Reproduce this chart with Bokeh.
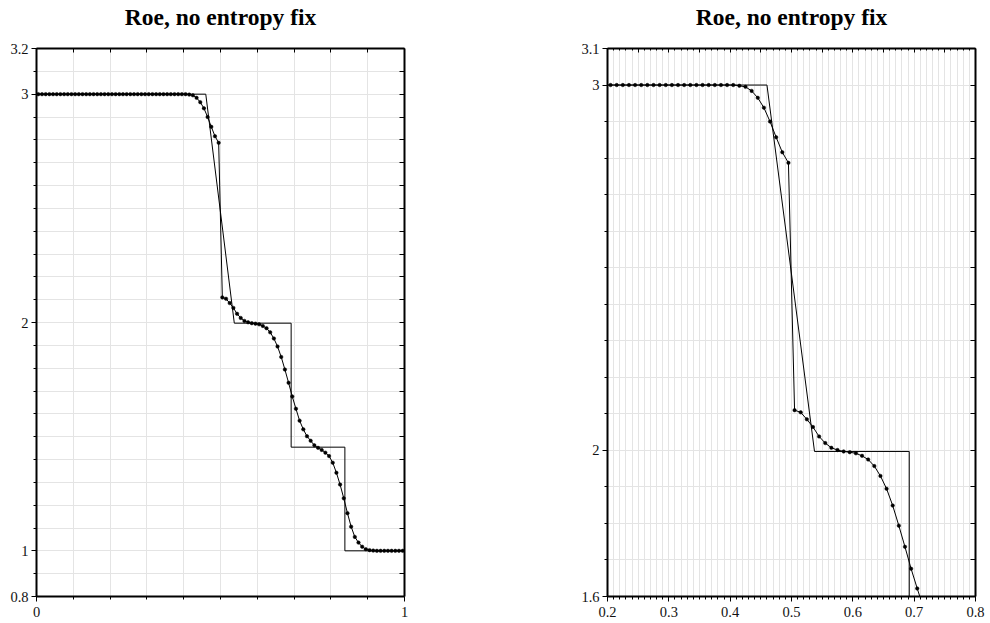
from bokeh.plotting import figure
from bokeh.layouts import row
from bokeh.models import (Range1d, LinearAxis, FixedTicker, CustomJSTickFormatter, Title)
from bokeh.embed import file_html
from bokeh.resources import INLINE

# ---------------- data ----------------
title_text = "Roe, no entropy fix"

x_cells = [
    0.005, 0.015, 0.025, 0.035, 0.045, 0.055, 0.065, 0.075, 0.085, 0.095,
    0.105, 0.115, 0.125, 0.135, 0.145, 0.155, 0.165, 0.175, 0.185, 0.195,
    0.205, 0.215, 0.225, 0.235, 0.245, 0.255, 0.265, 0.275, 0.285, 0.295,
    0.305, 0.315, 0.325, 0.335, 0.345, 0.355, 0.365, 0.375, 0.385, 0.395,
    0.405, 0.415, 0.425, 0.435, 0.445, 0.455, 0.465, 0.475, 0.485, 0.495,
    0.505, 0.515, 0.525, 0.535, 0.545, 0.555, 0.565, 0.575, 0.585, 0.595,
    0.605, 0.615, 0.625, 0.635, 0.645, 0.655, 0.665, 0.675, 0.685, 0.695,
    0.705, 0.715, 0.725, 0.735, 0.745, 0.755, 0.765, 0.775, 0.785, 0.795,
    0.805, 0.815, 0.825, 0.835, 0.845, 0.855, 0.865, 0.875, 0.885, 0.895,
    0.905, 0.915, 0.925, 0.935, 0.945, 0.955, 0.965, 0.975, 0.985, 0.995,
]
roe_values = [
    3.0, 3.0, 3.0, 3.0, 3.0, 3.0, 3.0, 3.0, 3.0, 3.0,
    3.0, 3.0, 3.0, 3.0, 3.0, 3.0, 3.0, 3.0, 3.0, 3.0,
    3.0, 3.0, 3.0, 3.0, 3.0, 3.0, 3.0, 3.0, 3.0, 3.0,
    3.0, 3.0, 3.0, 3.0, 3.0, 3.0, 3.0, 3.0, 3.0, 3.0,
    3.000, 2.998, 2.995, 2.984, 2.965, 2.938, 2.900, 2.857, 2.816, 2.787,
    2.110, 2.104, 2.085, 2.064, 2.038, 2.020, 2.007, 2.001, 1.997, 1.995,
    1.992, 1.985, 1.975, 1.957, 1.930, 1.895, 1.849, 1.794, 1.736, 1.676,
    1.622, 1.570, 1.532, 1.502, 1.482, 1.462, 1.451, 1.442, 1.430, 1.415,
    1.386, 1.342, 1.290, 1.230, 1.165, 1.106, 1.061, 1.036, 1.018, 1.007,
    1.003, 1.001, 1.0, 1.0, 1.0, 1.0, 1.0, 1.0, 1.0, 1.0,
]
exact_x = [0.0, 0.46, 0.5375, 0.692, 0.692, 0.838, 0.838, 1.0]
exact_y = [3.0, 3.0, 1.997, 1.997, 1.454, 1.454, 1.0, 1.0]

left_xlabels = [0.0, 1.0]
left_ylabels = [0.8, 1.0, 2.0, 3.0, 3.2]
right_xlabels = [0.2, 0.3, 0.4, 0.5, 0.6, 0.7, 0.8]
right_ylabels = [1.6, 2.0, 3.0, 3.1]

# ---------------- helpers ----------------
FONT = "Liberation Serif"
fmt = CustomJSTickFormatter(code="return String(parseFloat(tick.toFixed(2)));")
blank = CustomJSTickFormatter(code="return '';")


def steps(a, b, d):
    n = int(round((b - a) / d))
    return [round(a + i * d, 4) for i in range(n + 1)]


def style_axis(ax, major, minor, out_major, out_minor, in_major=0, in_minor=0, labels=True):
    ax.ticker = FixedTicker(ticks=major, minor_ticks=minor)
    ax.axis_line_width = 2
    ax.axis_line_color = "black"
    ax.major_tick_line_color = "black"
    ax.minor_tick_line_color = "black"
    ax.major_tick_out = out_major
    ax.major_tick_in = in_major
    ax.minor_tick_out = out_minor
    ax.minor_tick_in = in_minor
    if labels:
        ax.formatter = fmt
        ax.major_label_text_font = FONT
        ax.major_label_text_font_size = "14.5px"
        ax.major_label_text_color = "#111111"
        ax.major_label_standoff = 3
    else:
        ax.formatter = blank
        ax.major_label_text_font_size = "0px"
        ax.major_label_standoff = 0


def make_fig(xr, yr, width, mbl, mbr, xlab, ylab, xminor, yminor, top_major, top_minor, xgrid):
    p = figure(width=width, height=623, output_backend="svg", toolbar_location=None,
               title=None,
               x_range=Range1d(*xr), y_range=Range1d(*yr),
               x_axis_location=None, y_axis_location=None,
               min_border_left=mbl, min_border_right=mbr,
               min_border_top=48, min_border_bottom=27)
    p.outline_line_color = None
    p.background_fill_color = "white"
    p.border_fill_color = "white"

    bottom = LinearAxis()
    style_axis(bottom, xlab, xminor, 5, 3)
    bottom.major_label_standoff = 5
    left = LinearAxis()
    style_axis(left, ylab, yminor, 5, 3)
    right = LinearAxis()
    style_axis(right, steps(yr[0], yr[1], 0.1), [], 0, 0, in_major=5, labels=False)
    top = LinearAxis()
    style_axis(top, top_major, top_minor, 0, 0, in_major=4, in_minor=2, labels=False)
    p.add_layout(bottom, "below")
    p.add_layout(left, "left")
    p.add_layout(right, "right")
    p.add_layout(top, "above")

    spacer = Title(text=" ", text_font_size="16px", standoff=0)
    p.add_layout(spacer, "above")
    main_title = Title(text=title_text, align="center", text_font=FONT,
                       text_font_style="bold", text_font_size="23.5px",
                       text_color="black", standoff=0)
    p.add_layout(main_title, "above")

    p.xgrid.ticker = FixedTicker(ticks=xgrid)
    p.ygrid.ticker = FixedTicker(ticks=steps(yr[0], yr[1], 0.1))
    p.xgrid.grid_line_color = "#e4e4e4"
    p.ygrid.grid_line_color = "#e4e4e4"
    p.xgrid.grid_line_width = 1
    p.ygrid.grid_line_width = 1

    p.line(exact_x, exact_y, line_color="black", line_width=1)
    p.line(x_cells, roe_values, line_color="black", line_width=1)
    p.scatter(x_cells, roe_values, marker="circle", size=3.5,
              fill_color="black", line_color="black", line_width=0.5)
    return p


p1 = make_fig((0.0, 1.0), (0.8, 3.2), 495, 36, 91,
              left_xlabels, left_ylabels,
              steps(0.1, 0.9, 0.1), steps(0.8, 3.2, 0.1),
              steps(0.0, 1.0, 0.1), [],
              steps(0.0, 1.0, 0.1))
p2 = make_fig((0.2, 0.8), (1.6, 3.1), 495, 112, 15,
              right_xlabels, right_ylabels,
              steps(0.2, 0.8, 0.01), steps(1.6, 3.1, 0.1),
              steps(0.2, 0.8, 0.05), steps(0.2, 0.8, 0.01),
              steps(0.2, 0.8, 0.01))

layout = row(p1, p2)
open("out.html", "w").write(file_html(layout, INLINE))
